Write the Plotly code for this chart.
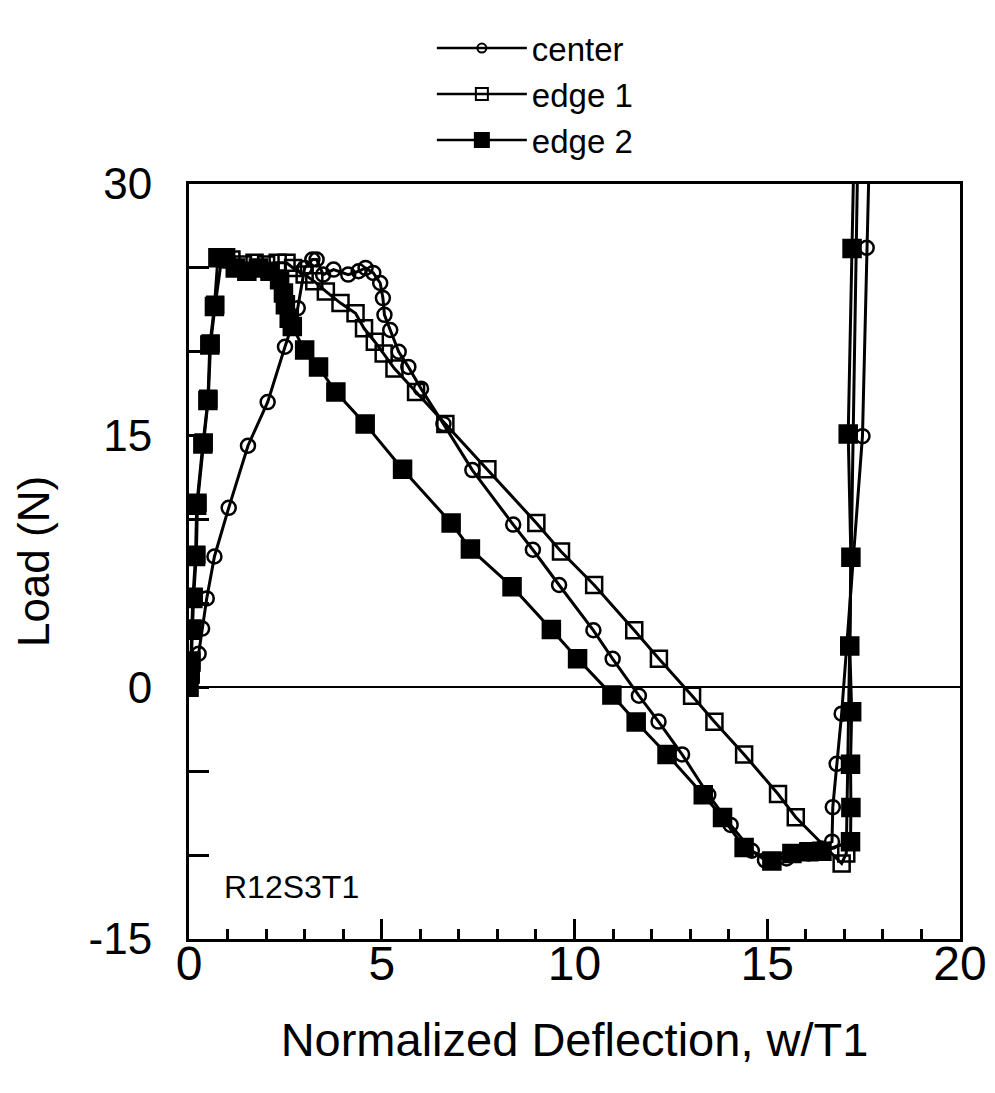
import plotly.graph_objects as go

# load vs normalized deflection
center_x = [0.0, 0.06, 0.25, 0.34, 0.46, 0.66, 1.03, 1.53, 2.04, 2.49, 2.82, 3.0, 3.2, 3.31, 3.48,
            3.75, 4.13, 4.4, 4.58, 4.78, 4.96, 5.03, 5.07, 5.22, 5.44, 5.69, 6.02, 6.6, 7.35, 8.41,
            8.92, 9.6, 10.49, 10.99, 11.67, 12.18, 12.79, 13.47, 14.05, 14.6, 14.94, 15.5, 16.07,
            16.4, 16.68, 16.7, 16.8, 16.93, 17.47, 17.58, 17.65]
center_y = [0.0, 1.0, 2.0, 3.5, 5.3, 7.8, 10.7, 14.4, 17.0, 20.3, 22.6, 25.0, 25.5, 25.5, 24.6,
            24.9, 24.6, 24.8, 25.0, 24.7, 24.1, 23.2, 22.2, 21.3, 20.0, 19.1, 17.8, 15.7, 12.95, 9.7,
            8.2, 6.1, 3.4, 1.7, -0.5, -2.04, -4.0, -6.4, -8.2, -9.74, -10.3, -10.2, -9.9,
            -9.6, -9.2, -7.14, -4.56, -1.57, 14.97, 26.2, 32.0]

edge1_x = [0.0, 0.04, 0.06, 0.09, 0.12, 0.19, 0.22, 0.38, 0.5, 0.56, 0.68, 0.85, 1.1, 1.4, 1.7,
           2.0, 2.3, 2.53, 2.7, 3.0, 3.25, 3.55, 3.93, 4.32, 4.54, 4.82, 5.05, 5.33, 5.89, 6.65,
           7.74, 9.01, 9.65, 10.51, 11.55, 12.19, 13.05, 13.63, 14.4, 15.28, 15.74, 16.93, 17.05,
           17.35]
edge1_y = [0.0, 0.9, 1.6, 3.5, 5.4, 7.9, 11.0, 14.6, 17.2, 20.5, 22.8, 25.6, 25.5, 25.2, 25.3,
           25.2, 25.3, 25.3, 25.0, 24.6, 24.2, 23.6, 22.9, 22.3, 21.4, 20.6, 19.9, 19.0, 17.6, 15.7,
           13.0, 9.8, 8.1, 6.1, 3.4, 1.7, -0.5, -2.05, -4.0, -6.36, -7.74, -10.5, -9.9,
           32.0]

edge2_x = [0.0, 0.03, 0.05, 0.07, 0.1, 0.17, 0.2, 0.36, 0.49, 0.54, 0.66, 0.75, 0.95, 1.2, 1.5,
           1.8, 2.1, 2.35, 2.45, 2.5, 2.6, 2.68, 3.0, 3.36, 3.81, 4.57, 5.54, 6.8, 7.3, 8.38, 9.4,
           10.08, 10.97, 11.6, 12.4, 13.34, 13.84, 14.4, 15.12, 15.64, 16.08, 16.42, 17.16, 17.17,
           17.16, 17.19, 17.14, 17.17, 17.1, 17.2, 17.25]
edge2_y = [0.0, 0.8, 1.5, 3.4, 5.3, 7.8, 10.85, 14.5, 17.1, 20.4, 22.7, 25.6, 25.6, 25.0, 24.8,
           25.0, 24.8, 24.3, 23.5, 22.8, 22.0, 21.5, 20.1, 19.1, 17.6, 15.7, 13.0, 9.8, 8.25, 6.0, 3.45,
           1.7, -0.45, -2.07, -4.0, -6.4, -7.76, -9.55, -10.35, -9.9, -9.8, -9.77, -9.2, -7.16,
           -4.58, -1.46, 2.47, 7.76, 15.1, 26.15, 32.0]

x_tickvals = [0, 5, 10, 15, 20]
y_tickvals = [-15, 0, 15, 30]
y_ticktext = ["-15", "0", "15", "30"]
specimen = "R12S3T1"
font = "Liberation Sans, Arial, sans-serif"

fig = go.Figure()
# (name, x, y, symbol, marker size on plot, marker size in legend)
series = [("center", center_x, center_y, "circle-open", 14, 9),
          ("edge 1", edge1_x, edge1_y, "square-open", 16, 12),
          ("edge 2", edge2_x, edge2_y, "square", 17, 14)]
for name, xs, ys, sym, sz, lsz in series:
    fig.add_trace(go.Scatter(
        x=xs, y=ys, name=name, mode="lines+markers", showlegend=False,
        line=dict(color="black", width=3),
        marker=dict(symbol=sym, size=sz, color="black", line=dict(color="black", width=2.5)),
    ))
    # legend-only entry with the smaller key symbol used in the figure
    fig.add_trace(go.Scatter(
        x=[None], y=[None], name=name, mode="lines+markers",
        line=dict(color="black", width=2.5),
        marker=dict(symbol=sym, size=lsz, color="black", line=dict(color="black", width=2)),
    ))

fig.add_annotation(x=0.85, y=-11.9, text=specimen, showarrow=False, xanchor="left",
                   font=dict(size=32, color="black", family=font))

fig.update_xaxes(
    range=[0, 20], tickmode="array", tickvals=x_tickvals,
    ticks="inside", ticklen=20, tickwidth=2.5, tickcolor="black",
    minor=dict(tickmode="array", tickvals=list(range(0, 21)), ticks="inside", ticklen=10,
               tickwidth=2.5, tickcolor="black"),
    showline=True, linewidth=3, linecolor="black", mirror=True, showgrid=False, zeroline=False,
    tickfont=dict(size=48, color="black", family=font), ticklabelstandoff=-20,
    title=dict(text="Normalized Deflection, w/T1", font=dict(size=47, color="black", family=font),
               standoff=35),
)
fig.update_yaxes(
    range=[-15, 30], tickmode="array", tickvals=y_tickvals, ticktext=y_ticktext,
    ticks="inside", ticklen=20, tickwidth=2.5, tickcolor="black",
    minor=dict(tickmode="array", tickvals=list(range(-15, 31, 5)), ticks="inside", ticklen=20,
               tickwidth=2.5, tickcolor="black"),
    showline=True, linewidth=3, linecolor="black", mirror=True, showgrid=False,
    zeroline=True, zerolinecolor="black", zerolinewidth=1.5,
    tickfont=dict(size=44, color="black", family=font), ticklabelstandoff=25,
    title=dict(text="Load (N)", font=dict(size=44, color="black", family=font), standoff=26),
)

fig.update_layout(
    width=995, height=1093,
    margin=dict(l=181, r=43, t=166, b=162),
    paper_bgcolor="white", plot_bgcolor="white",
    font=dict(family=font, color="black"),
    showlegend=True,
    legend=dict(x=0.315, y=1.217, xanchor="left", yanchor="top", itemwidth=90,
                font=dict(size=33, color="black", family=font), bgcolor="rgba(0,0,0,0)",
                tracegroupgap=0),
)

fig.write_html("out.html")
